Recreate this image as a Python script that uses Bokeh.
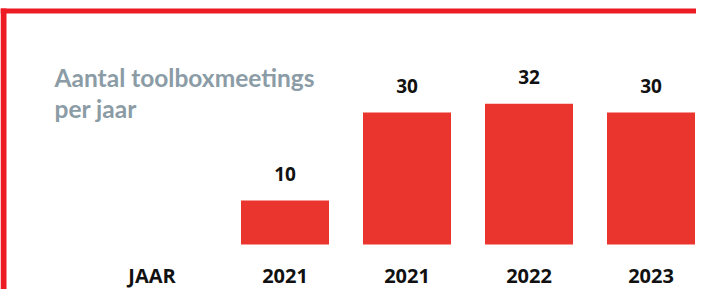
from bokeh.plotting import figure
from bokeh.models import ColumnDataSource, Label, BoxAnnotation
from bokeh.core.properties import value
from bokeh.embed import file_html
from bokeh.resources import INLINE

# ---- data ----
axis_label = "JAAR"
years = ["2021", "2021", "2022", "2023"]
meetings = [10, 30, 32, 30]
title_lines = ["Aantal toolboxmeetings", "per jaar"]

BAR_RED = "#EA352E"
FRAME_RED = "#ED1C24"
TITLE_GREY = "#8B9CA6"
TEXT = "#111111"

W, H = 696, 289
PX_X = 122.0      # pixels per category step
X0 = 162.5        # pixel position of category 0
PX_Y = 4.4        # pixels per meeting
BASE = 244        # pixel row of the bar baseline

xs = list(range(1, len(years) + 1))
source = ColumnDataSource(dict(x=xs, year=years, n=meetings,
                               lbl=[str(v) for v in meetings],
                               y0=[0] * len(years)))

p = figure(width=W, height=H, output_backend="svg", toolbar_location=None,
           x_range=(-X0 / PX_X, (W - X0) / PX_X),
           y_range=(-(H - BASE) / PX_Y, BASE / PX_Y),
           x_axis_location=None, y_axis_location=None,
           min_border_left=0, min_border_right=0, min_border_top=0,
           min_border_bottom=0)

p.vbar(x="x", top="n", bottom=0, width=88 / PX_X, source=source,
       fill_color=BAR_RED, line_color=None)

# value labels above the bars
p.text(x="x", y="n", text="lbl", source=source, y_offset=-27,
       text_align="center", text_baseline="middle",
       text_font=value("Open Sans"), text_font_style="bold",
       text_font_size="19px", text_color=TEXT)

# category labels below the bars
p.text(x="x", y="y0", text="year", source=source, y_offset=31,
       text_align="center", text_baseline="middle",
       text_font=value("Open Sans"), text_font_style="bold",
       text_font_size="20px", text_color=TEXT)
p.text(x=[0], y=[0], text=[axis_label], x_offset=-11, y_offset=31,
       text_align="center", text_baseline="middle",
       text_font=value("Open Sans"), text_font_style="bold",
       text_font_size="20px", text_color=TEXT)

p.xgrid.grid_line_color = None
p.ygrid.grid_line_color = None
p.outline_line_color = None

# title lines
for txt, yy in zip(title_lines, [212, 181]):
    p.add_layout(Label(x=54, y=yy, x_units="screen", y_units="screen", text=txt,
                       text_font="Lato", text_font_style="bold",
                       text_font_size="24.5px", text_color=TITLE_GREY,
                       text_baseline="alphabetic"))

# red frame lines
p.add_layout(BoxAnnotation(left=0, right=W, top=8, bottom=13,
                           left_units="canvas", right_units="canvas",
                           top_units="canvas", bottom_units="canvas",
                           fill_color=FRAME_RED, fill_alpha=1, line_color=None))
p.add_layout(BoxAnnotation(left=0, right=6, top=8, bottom=H,
                           left_units="canvas", right_units="canvas",
                           top_units="canvas", bottom_units="canvas",
                           fill_color=FRAME_RED, fill_alpha=1, line_color=None))

open("out.html", "w").write(file_html(p, INLINE))
